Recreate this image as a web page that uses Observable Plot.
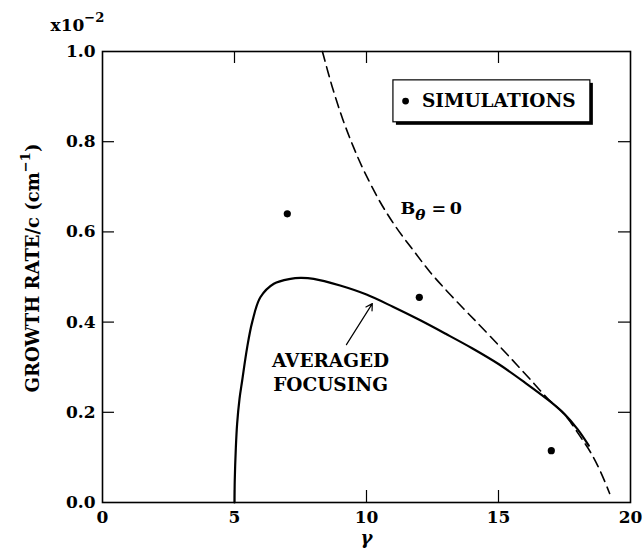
<!DOCTYPE html>
<html>
<head>
<meta charset="utf-8">
<script src="https://cdn.jsdelivr.net/npm/d3@7"></script>
<script src="https://cdn.jsdelivr.net/npm/@observablehq/plot@0.6"></script>
<style>
  html, body { margin: 0; padding: 0; background: white; }
  #chart { width: 643px; height: 551px; }
</style>
</head>
<body>
<div id="chart"></div>
<script>
// ---- data ----
const xTicks = [0, 5, 10, 15, 20];
const xTickLabels = ["0", "5", "10", "15", "20"];
const yTicks = [0, 0.2, 0.4, 0.6, 0.8, 1.0];
const yTickLabels = ["0.0", "0.2", "0.4", "0.6", "0.8", "1.0"];

// simulations (growth rate in units of 1e-2 cm^-1)
const simGamma = [7, 12, 17];
const simRate = [0.64, 0.455, 0.115];

// averaged focusing (solid)
const focusGamma = [5.0, 5.01, 5.05, 5.1, 5.19, 5.29, 5.48, 5.67, 5.98, 6.49, 7.12, 7.5, 8.0, 9.0, 10.0, 11.0, 12.0, 13.0, 14.0, 15.0, 16.0, 17.0, 17.5, 18.0, 18.42];
const focusRate  = [0.0, 0.05, 0.12, 0.175, 0.23, 0.27, 0.344, 0.40, 0.455, 0.485, 0.496, 0.498, 0.496, 0.481, 0.461, 0.434, 0.405, 0.374, 0.342, 0.307, 0.266, 0.222, 0.196, 0.162, 0.126];

// B_theta = 0 (dashed)
const bthGamma = [8.33, 8.7, 9.1, 9.5, 9.9, 10.5, 11.1, 11.8, 12.42, 13.06, 13.69, 14.19, 15.0, 15.7, 16.34, 16.9, 17.4, 17.73, 18.1, 18.48, 18.86, 19.21];
const bthRate  = [1.0, 0.922, 0.850, 0.789, 0.736, 0.668, 0.612, 0.557, 0.510, 0.468, 0.429, 0.399, 0.349, 0.305, 0.264, 0.228, 0.202, 0.178, 0.146, 0.112, 0.069, 0.02];

const innerTicksX = [5, 10, 15];
const innerTicksY = [0.2, 0.4, 0.6, 0.8];

// ---- layout ----
const W = 643, H = 551;
const mL = 102, mR = 13, mT = 51, mB = 49;
const iw = W - mL - mR, ih = H - mT - mB;
const tickLen = 12;

const focus = focusGamma.map((g, i) => ({g, r: focusRate[i]}));
const bth = bthGamma.map((g, i) => ({g, r: bthRate[i]}));
const sims = simGamma.map((g, i) => ({g, r: simRate[i]}));

const serif = "DejaVu Serif";

const plot = Plot.plot({
  width: W, height: H,
  marginLeft: mL, marginRight: mR, marginTop: mT, marginBottom: mB,
  x: {domain: [0, 20]},
  y: {domain: [0, 1]},
  style: {fontFamily: serif, fontWeight: "bold", fontSize: "17px", color: "black", background: "white"},
  marks: [
    Plot.axisX(xTicks, {tickSize: 0, tickPadding: 8, label: null, tickFormat: (d, i) => xTickLabels[i], fontSize: 17}),
    Plot.axisY(yTicks, {tickSize: 0, tickPadding: 7, label: null, tickFormat: (d, i) => yTickLabels[i], fontSize: 17}),
    // inward ticks on all sides
    Plot.ruleX(innerTicksX, {insetTop: ih - tickLen, stroke: "black", strokeWidth: 1.2}),
    Plot.ruleX(innerTicksX, {insetBottom: ih - tickLen, stroke: "black", strokeWidth: 1.2}),
    Plot.ruleY(innerTicksY, {insetRight: iw - tickLen, stroke: "black", strokeWidth: 1.2}),
    Plot.ruleY(innerTicksY, {insetLeft: iw - tickLen, stroke: "black", strokeWidth: 1.2}),
    // curves
    Plot.line(bth, {x: "g", y: "r", stroke: "black", strokeWidth: 1.6, strokeDasharray: "10,6", curve: "catmull-rom"}),
    Plot.line(focus, {x: "g", y: "r", stroke: "black", strokeWidth: 2.2, curve: "catmull-rom"}),
    Plot.dot(sims, {x: "g", y: "r", r: 3.6, fill: "black", stroke: "none"}),
    // legend box with shadow
    Plot.rect([0], {x1: 11.02, x2: 18.48, y1: 0.843, y2: 0.936, fill: "black", dx: 3, dy: 3}),
    Plot.rect([0], {x1: 11.02, x2: 18.48, y1: 0.843, y2: 0.936, fill: "white", stroke: "black", strokeWidth: 1.2}),
    Plot.dot([0], {x: 11.48, y: 0.89, r: 3.4, fill: "black", stroke: "none"}),
    Plot.text(["SIMULATIONS"], {x: 12.1, y: 0.89, textAnchor: "start", fontSize: 18.5, fontWeight: "bold"}),
    // annotations
    Plot.text(["B_{θ} =\u20090"], {x: 11.29, y: 0.652, textAnchor: "start", fontSize: 17.5, fontWeight: "bold"}),
    Plot.text(["AVERAGED\nFOCUSING"], {x: 8.64, y: 0.29, fontSize: 18.5, lineHeight: 1.3, fontWeight: "bold"}),
    Plot.arrow([0], {x1: 9.24, y1: 0.35, x2: 10.22, y2: 0.441, stroke: "black", strokeWidth: 1.2, headLength: 9}),
    // axis labels
    Plot.text(["GROWTH RATE/c (cm^{−1})"], {frameAnchor: "left", textAnchor: "middle", rotate: -90, dx: -69, dy: -9, fontSize: 18, fontWeight: "bold"}),
    Plot.text(["x10^{−2}"], {frameAnchor: "top-left", textAnchor: "start", lineAnchor: "bottom", dx: -52, dy: -21, fontSize: 17, fontWeight: "bold"}),
    Plot.text(["γ"], {frameAnchor: "bottom", dy: 41, fontSize: 18, fontStyle: "italic", fontWeight: "bold"}),
    Plot.frame({stroke: "black", strokeWidth: 1.6})
  ]
});

// super/subscripts: rebuild text with tspans
d3.select(plot).selectAll("text").each(function() {
  const t = this.textContent;
  if (!/[\^_]\{/.test(t) || this.querySelector("tspan")) return;
  const sel = d3.select(this);
  const fs = parseFloat(getComputedStyle(this).fontSize) || 16;
  sel.text(null);
  const parts = t.split(/(\^\{[^}]*\}|_\{[^}]*\})/).filter(p => p.length);
  let offset = 0;
  for (const p of parts) {
    let target = 0, txt = p, size = null, italic = false;
    if (p.startsWith("^{")) { target = -0.55 * fs; txt = p.slice(2, -1); size = 0.82 * fs; }
    else if (p.startsWith("_{")) { target = 0.38 * fs; txt = p.slice(2, -1); size = 0.95 * fs; italic = true; }
    const ts = sel.append("tspan").attr("dy", target - offset).text(txt);
    if (size) ts.attr("font-size", size);
    if (italic) ts.attr("font-style", "italic");
    offset = target;
  }
});

document.getElementById("chart").appendChild(plot);
</script>
</body>
</html>
